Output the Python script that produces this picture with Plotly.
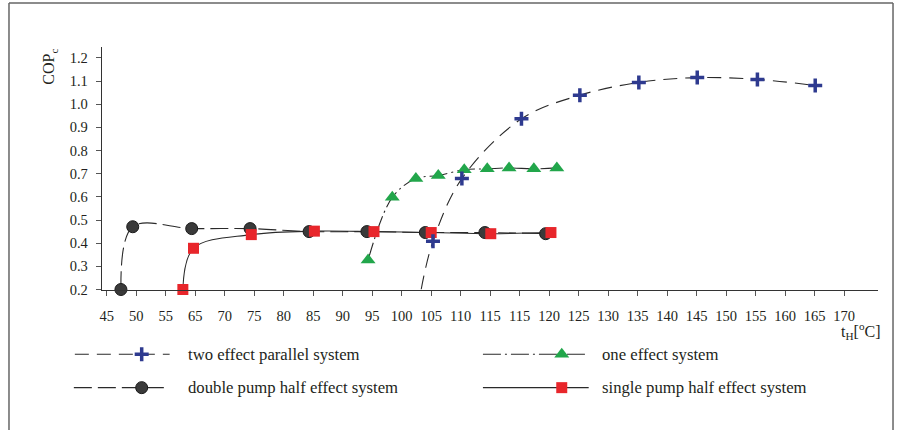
import plotly.graph_objects as go

# ---------------- data ----------------
# printed tick labels (ticks are evenly spaced, 5 units apart on the drawing scale)
x_tick_labels = ["45", "50", "55", "65", "70", "75", "80", "85", "90", "95", "100",
                 "105", "110", "115", "115", "120", "125", "130", "135", "140",
                 "145", "150", "155", "160", "165", "170"]
y_tick_values = [0.2, 0.3, 0.4, 0.5, 0.6, 0.7, 0.8, 0.9, 1.0, 1.1, 1.2]

# series, x read on the evenly spaced drawing scale (45 + 5 per tick)
two_effect_x = [100.3, 105.2, 115.3, 125.2, 135.2, 145.1, 155.3, 165.1]
two_effect_y = [0.408, 0.679, 0.937, 1.039, 1.094, 1.115, 1.107, 1.081]
two_effect_curve_start_x = [98.3]
two_effect_curve_start_y = [0.2]

one_effect_x = [89.3, 93.4, 97.4, 101.2, 105.6, 109.5, 113.2, 117.4, 121.3]
one_effect_y = [0.327, 0.598, 0.679, 0.692, 0.717, 0.721, 0.725, 0.721, 0.725]

double_pump_x = [47.4, 49.4, 59.4, 69.3, 79.3, 89.1, 99.0, 109.1, 119.4]
double_pump_y = [0.2, 0.471, 0.463, 0.463, 0.45, 0.45, 0.446, 0.446, 0.441]

single_pump_x = [57.9, 59.7, 69.5, 80.2, 90.3, 100.0, 110.1, 120.3]
single_pump_y = [0.2, 0.378, 0.437, 0.452, 0.45, 0.446, 0.441, 0.446]

series_names = ["two effect parallel system", "one effect system",
                "double pump half effect system", "single pump half effect system"]

# ---------------- styles ----------------
W, H = 899, 430
FONT = "Liberation Serif"
TXT = "#231F20"
LINE = "#2a2a2a"
BLUE = "#2E3A8F"
GREEN = "#22A64B"
RED = "#E8262B"
DARK = "#3a3a3a"

dash_two = "14px,8px"
dash_one = "18px,4px,2px,4px"
dash_double = "18px,6px"

x_tick_vals = [45 + 5 * i for i in range(len(x_tick_labels))]

fig = go.Figure()

# curves
fig.add_trace(go.Scatter(x=two_effect_curve_start_x + two_effect_x,
                         y=two_effect_curve_start_y + two_effect_y,
                         mode="lines", line=dict(color=LINE, width=1.1, dash=dash_two, shape="spline"),
                         cliponaxis=False, showlegend=False, hoverinfo="skip"))
fig.add_trace(go.Scatter(x=one_effect_x, y=one_effect_y, mode="lines",
                         line=dict(color=LINE, width=1.1, dash=dash_one, shape="spline"),
                         cliponaxis=False, showlegend=False, hoverinfo="skip"))
fig.add_trace(go.Scatter(x=double_pump_x, y=double_pump_y, mode="lines",
                         line=dict(color=LINE, width=1.1, dash=dash_double, shape="spline"),
                         cliponaxis=False, showlegend=False, hoverinfo="skip"))
fig.add_trace(go.Scatter(x=single_pump_x, y=single_pump_y, mode="lines",
                         line=dict(color=LINE, width=1.1, shape="spline"),
                         cliponaxis=False, showlegend=False, hoverinfo="skip"))

# markers
circle_m = dict(symbol="circle", size=12, color=DARK, line=dict(color="#1a1a1a", width=1))
square_m = dict(symbol="square", size=11, color=RED, line=dict(color=RED, width=0))
tri_m = dict(symbol="triangle-up", size=13, color=GREEN, line=dict(color=GREEN, width=0))
plus_m = dict(symbol="cross-thin", size=10, color=BLUE, line=dict(color=BLUE, width=3.5))

fig.add_trace(go.Scatter(x=double_pump_x, y=double_pump_y, mode="markers", marker=circle_m,
                         cliponaxis=False, name=series_names[2], showlegend=False))
fig.add_trace(go.Scatter(x=single_pump_x, y=single_pump_y, mode="markers", marker=square_m,
                         cliponaxis=False, name=series_names[3], showlegend=False))
fig.add_trace(go.Scatter(x=one_effect_x, y=one_effect_y, mode="markers", marker=tri_m,
                         cliponaxis=False, name=series_names[1], showlegend=False))
fig.add_trace(go.Scatter(x=two_effect_x, y=two_effect_y, mode="markers", marker=plus_m,
                         cliponaxis=False, name=series_names[0], showlegend=False))

# ---------------- custom legend (pixel overlay axes) ----------------
legend_items = [
    (series_names[0], 73, 168, 140, 361, dash_two, plus_m, 184),
    (series_names[2], 72, 168, 140, 395, dash_double, circle_m, 184),
    (series_names[1], 482, 588, 561, 361, dash_one, tri_m, 599),
    (series_names[3], 482, 588, 561, 395, "solid", square_m, 599),
]
annotations = []
for name, x0, x1, xm, yy, dash, mk, xt in legend_items:
    fig.add_trace(go.Scatter(x=[x0, x1], y=[yy, yy], mode="lines", xaxis="x2", yaxis="y2",
                             line=dict(color=LINE, width=1.1, dash=dash),
                             showlegend=False, hoverinfo="skip", cliponaxis=False))
    fig.add_trace(go.Scatter(x=[xm], y=[yy], mode="markers", xaxis="x2", yaxis="y2",
                             marker=mk, showlegend=False, hoverinfo="skip", cliponaxis=False))
    annotations.append(dict(x=xt, y=yy, xref="x2", yref="y2", text=name,
                            showarrow=False, xanchor="left", yanchor="middle",
                            font=dict(family=FONT, size=16.7, color=TXT)))

# axis titles
annotations.append(dict(x=48 / W, y=1 - 68 / H, xref="paper", yref="paper",
                        text="COP<sub>c</sub>", textangle=-90, showarrow=False,
                        xanchor="center", yanchor="middle",
                        font=dict(family=FONT, size=16, color=TXT)))
annotations.append(dict(x=839 / W, y=1 - 337 / H, xref="paper", yref="paper",
                        text="t<sub>H</sub>[<sup>o</sup>C]", showarrow=False,
                        xanchor="left", yanchor="middle",
                        font=dict(family=FONT, size=16, color=TXT)))

# frame
shapes = [
    dict(type="line", xref="paper", yref="paper", x0=7 / W, x1=7 / W, y0=-0.02, y1=1 - 3 / H,
         line=dict(color="#666", width=1.5)),
    dict(type="line", xref="paper", yref="paper", x0=7 / W, x1=893 / W, y0=1 - 3 / H, y1=1 - 3 / H,
         line=dict(color="#666", width=1.5)),
    dict(type="line", xref="paper", yref="paper", x0=893 / W, x1=893 / W, y0=-0.02, y1=1 - 3 / H,
         line=dict(color="#666", width=1.5)),
]

px_per_unit = 29.56 / 5
x_min = 45 + (100 - 105) / px_per_unit
x_max = 45 + (878 - 105) / px_per_unit
y_max = 0.2 + (295 - 48) / 236

fig.update_layout(
    width=W, height=H, autosize=False,
    margin=dict(l=0, r=0, t=0, b=0),
    paper_bgcolor="white", plot_bgcolor="rgba(0,0,0,0)",
    font=dict(family=FONT, color=TXT, size=14),
    showlegend=False,
    xaxis=dict(domain=[100 / W, 878 / W], range=[x_min, x_max],
               tickmode="array", tickvals=x_tick_vals, ticktext=x_tick_labels,
               showgrid=False, zeroline=False, showline=True, linecolor="#333", linewidth=1.2,
               ticks="outside", ticklen=5, tickcolor="#555", tickwidth=1,
               tickfont=dict(family=FONT, size=14.5, color=TXT), ticklabelstandoff=8,
               anchor="y"),
    yaxis=dict(domain=[1 - 295 / H, 1 - 48 / H], range=[0.2, y_max],
               tickmode="array", tickvals=y_tick_values,
               ticktext=[f"{v:.1f}" for v in y_tick_values],
               showgrid=False, zeroline=False, showline=True, linecolor="#333", linewidth=1.2,
               ticks="outside", ticklen=5, tickcolor="#555", tickwidth=1,
               tickfont=dict(family=FONT, size=14.5, color=TXT), ticklabelstandoff=5,
               anchor="x"),
    xaxis2=dict(domain=[0, 1], range=[0, W], visible=False, anchor="y2", fixedrange=True),
    yaxis2=dict(domain=[0, 1], range=[H, 0], visible=False, anchor="x2", fixedrange=True),
    annotations=annotations,
    shapes=shapes,
)

fig.write_html("out.html")
